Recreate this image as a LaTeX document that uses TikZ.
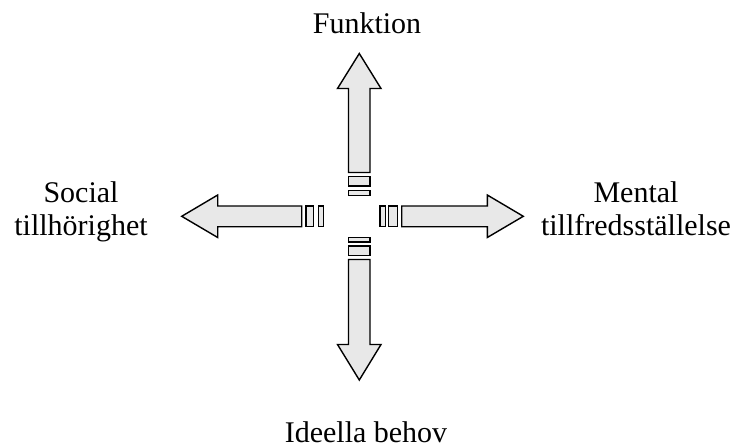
\documentclass[tikz,border=0pt]{standalone}
\usepackage{fontspec}
\setmainfont{Liberation Serif}
\begin{document}
\begin{tikzpicture}[x=1pt,y=-1pt,
  arr/.style={draw=black, fill=black!9, line width=1.4pt, line join=miter},
  lbl/.style={font=\fontsize{30}{33}\selectfont, inner sep=0pt, align=center, anchor=base}]
\useasboundingbox (0,0) rectangle (735,447);
% up arrow
\draw[arr] (348.5,172.5) -- (348.5,88.5) -- (337.5,88.5) -- (359.3,53.5) -- (381,88.5) -- (370,88.5) -- (370,172.5) -- cycle;
\draw[arr] (348.5,176.5) rectangle (370,186);
\draw[arr] (348.5,190.5) rectangle (370,195.5);
% down arrow
\draw[arr] (348.5,259.5) -- (348.5,344.5) -- (337.5,344.5) -- (359.3,380) -- (381,344.5) -- (370,344.5) -- (370,259.5) -- cycle;
\draw[arr] (348.5,237.5) rectangle (370,242);
\draw[arr] (348.5,246) rectangle (370,255.5);
% left arrow
\draw[arr] (301.7,206) -- (217.7,206) -- (217.7,195) -- (181.7,216.3) -- (217.7,237.5) -- (217.7,226.7) -- (301.7,226.7) -- cycle;
\draw[arr] (306,206) rectangle (313.3,226.7);
\draw[arr] (318.7,206) rectangle (323.7,226.7);
% right arrow
\draw[arr] (401.7,206) -- (487.3,206) -- (487.3,195) -- (523.3,216.3) -- (487.3,237.5) -- (487.3,226.7) -- (401.7,226.7) -- cycle;
\draw[arr] (380,206) rectangle (385.7,226.7);
\draw[arr] (388.3,206) rectangle (397.3,226.7);
% labels
\node[lbl] (funk) at (367,33) {Funktion};
\node[lbl] (soc) at (81,235) {Social\\tillhörighet};
\node[lbl] (ment) at (636,235) {Mental\\tillfredsställelse};
\node[lbl] (ideal) at (366,442) {Ideella behov};
\end{tikzpicture}
\end{document}
